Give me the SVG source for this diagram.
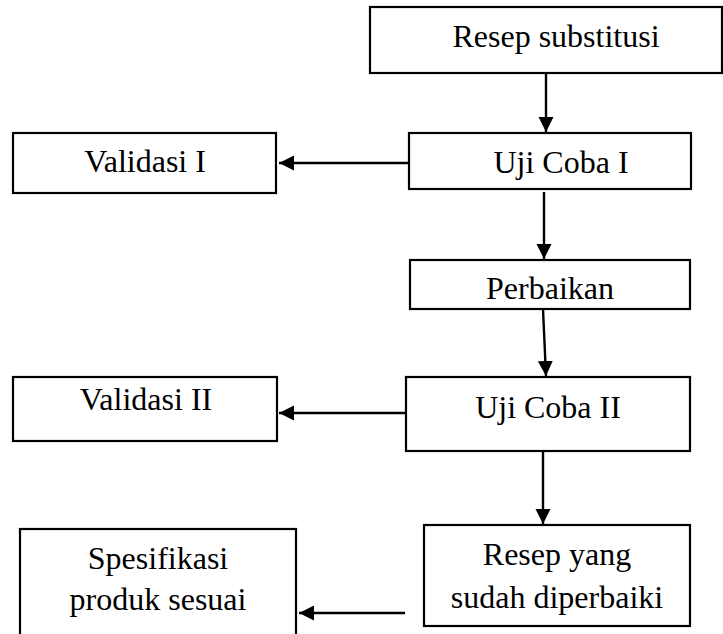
<svg xmlns="http://www.w3.org/2000/svg" width="723" height="634" viewBox="0 0 723 634">
<style>
rect.box{fill:#fff;stroke:#000;stroke-width:2.2}
.lbl{font-family:'Liberation Serif','Times New Roman',Tinos,'DejaVu Serif',serif;font-size:32px;fill:#000;text-anchor:middle}
.conn line{stroke:#000;stroke-width:2.4;fill:none}
</style>
<defs>
<marker id="ah" markerUnits="userSpaceOnUse" markerWidth="16" markerHeight="16" refX="15" refY="7.5" orient="auto">
<path d="M0,0 L15,7.5 L0,15 z" fill="#000"/>
</marker>
</defs>
<rect width="723" height="634" fill="#fff"/>
<g id="resep-substitusi"><rect class="box" x="370" y="7" width="352" height="66"/><text class="lbl" font-family="Liberation Serif, serif" x="556" y="47">Resep substitusi</text></g>
<g id="uji-coba-1"><rect class="box" x="409" y="133" width="282" height="56"/><text class="lbl" font-family="Liberation Serif, serif" x="561" y="173">Uji Coba I</text></g>
<g id="validasi-1"><rect class="box" x="13" y="133" width="263" height="60"/><text class="lbl" font-family="Liberation Serif, serif" x="145" y="172">Validasi I</text></g>
<g id="perbaikan"><rect class="box" x="410" y="260" width="280" height="49"/><text class="lbl" font-family="Liberation Serif, serif" x="550" y="299">Perbaikan</text></g>
<g id="uji-coba-2"><rect class="box" x="406" y="377" width="284" height="74"/><text class="lbl" font-family="Liberation Serif, serif" x="548" y="418">Uji Coba II</text></g>
<g id="validasi-2"><rect class="box" x="13" y="377" width="264" height="64"/><text class="lbl" font-family="Liberation Serif, serif" x="146" y="410">Validasi II</text></g>
<g id="resep-diperbaiki"><rect class="box" x="424" y="525" width="266" height="101"/><text class="lbl" font-family="Liberation Serif, serif" x="557" y="565">Resep yang</text><text class="lbl" font-family="Liberation Serif, serif" x="557" y="608">sudah diperbaiki</text></g>
<g id="spesifikasi"><rect class="box" x="20" y="529" width="276" height="120"/><text class="lbl" font-family="Liberation Serif, serif" x="158" y="569">Spesifikasi</text><text class="lbl" font-family="Liberation Serif, serif" x="158" y="610">produk sesuai</text></g>
<g class="conn" id="connectors">
<line x1="546" y1="73" x2="546" y2="132" marker-end="url(#ah)"/>
<line x1="408" y1="163" x2="279" y2="163" marker-end="url(#ah)"/>
<line x1="544" y1="192" x2="544" y2="259" marker-end="url(#ah)"/>
<line x1="543" y1="309" x2="546" y2="376" marker-end="url(#ah)"/>
<line x1="405" y1="413" x2="279" y2="413" marker-end="url(#ah)"/>
<line x1="543" y1="451" x2="543" y2="524" marker-end="url(#ah)"/>
<line x1="405" y1="613" x2="299" y2="613" marker-end="url(#ah)"/>
</g>
</svg>
